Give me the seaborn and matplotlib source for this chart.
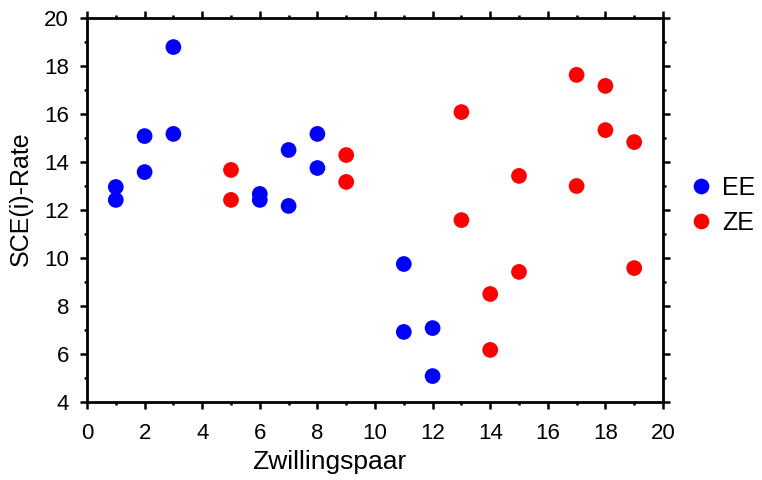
import matplotlib
matplotlib.use("Agg")
import matplotlib.pyplot as plt
from matplotlib.ticker import MultipleLocator
from matplotlib.lines import Line2D
import pandas as pd
import seaborn as sns

# Twin pair number and SCE(i) rate, per group
ee_pair = [1, 1, 2, 2, 3, 3, 6, 6, 7, 7, 8, 8, 11, 11, 12, 12]
ee_rate = [12.96, 12.42, 15.08, 13.58, 18.79, 15.17, 12.67, 12.42,
           14.50, 12.17, 15.17, 13.75, 9.75, 6.92, 7.08, 5.08]
ze_pair = [5, 5, 9, 9, 13, 13, 14, 14, 15, 15, 17, 17, 18, 18, 19, 19]
ze_rate = [13.67, 12.42, 14.29, 13.17, 16.08, 11.58, 8.50, 6.17,
           13.42, 9.42, 17.63, 13.00, 17.17, 15.33, 14.83, 9.58]
groups = ["EE", "ZE"]
colors = {"EE": "#0000ff", "ZE": "#ff0000"}

df = pd.DataFrame({
    "Zwillingspaar": ee_pair + ze_pair,
    "SCE(i)-Rate": ee_rate + ze_rate,
    "Gruppe": ["EE"] * len(ee_pair) + ["ZE"] * len(ze_pair),
})

sns.set_style("white")
plt.rcParams["font.family"] = ["Liberation Sans", "DejaVu Sans"]
plt.rcParams.update({
    "text.color": "black",
    "axes.labelcolor": "black",
    "xtick.color": "black",
    "ytick.color": "black",
})

fig = plt.figure(figsize=(7.62, 4.8), dpi=100)
ax = fig.add_axes([87 / 762, 1 - 402 / 480, 576 / 762, 384 / 480])

sns.scatterplot(data=df, x="Zwillingspaar", y="SCE(i)-Rate", hue="Gruppe",
                hue_order=groups, palette=colors, s=128, edgecolor="none",
                legend=False, ax=ax)

ax.set_xlim(0, 20)
ax.set_ylim(4, 20)
ax.xaxis.set_major_locator(MultipleLocator(2))
ax.xaxis.set_minor_locator(MultipleLocator(1))
ax.yaxis.set_major_locator(MultipleLocator(2))
ax.yaxis.set_minor_locator(MultipleLocator(1))

for sp in ax.spines.values():
    sp.set_visible(True)
    sp.set_color("black")
    sp.set_linewidth(2)

ax.tick_params(which="both", direction="out", top=True, right=True,
               bottom=True, left=True, color="black", width=1.8)
ax.tick_params(which="major", length=5, labelsize=16, pad=8)
ax.tick_params(axis="x", which="major", pad=10)
ax.tick_params(which="minor", length=2.5)
ax.tick_params(axis="x", labeltop=False)
ax.tick_params(axis="y", labelright=False)

ax.set_xlabel("Zwillingspaar", fontsize=19, va="top")
ax.set_ylabel("SCE(i)-Rate", fontsize=18, va="center")
ax.xaxis.set_label_coords(0.421, -0.125)
ax.yaxis.set_label_coords(-0.115, 0.53)

handles = [Line2D([], [], marker="o", linestyle="none", markersize=11.3,
                  markerfacecolor=colors[g], markeredgecolor="none", label=g)
           for g in groups]
fig.legend(handles=handles, loc="center left", bbox_to_anchor=(0.894, 0.572),
           frameon=False, fontsize=18, handletextpad=0.45, labelspacing=0.45,
           handlelength=0.8, borderaxespad=0)

fig.savefig("out.png", dpi=100)
